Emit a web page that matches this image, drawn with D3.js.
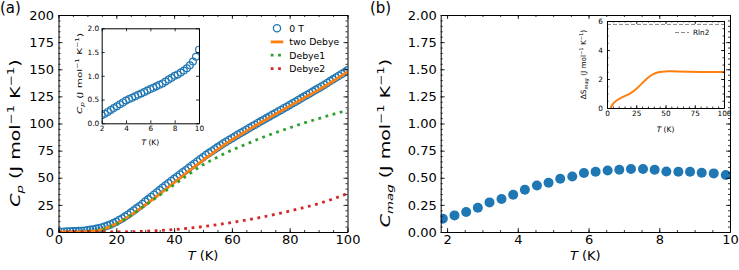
<!DOCTYPE html>
<html><head><meta charset="utf-8">
<script src="https://cdn.jsdelivr.net/npm/d3@7"></script>
<style>body{margin:0;background:#fff}svg{display:block}text{font-family:"DejaVu Sans",sans-serif}</style>
</head><body>
<script>
// ---------- DATA ----------
// Panel (a) main: measured Cp (0 T)
const tA = [1,2,3,4,5,6,7,8,9,10,11,12,13,14,15,16,17,18,19,20,21,22,23,24,25,26,27,28,29,30,31,32,33,34,35,36,37,38,39,40,41,42,43,44,45,46,47,48,49,50,51,52,53,54,55,56,57,58,59,60,61,62,63,64,65,66,67,68,69,70,71,72,73,74,75,76,77,78,79,80,81,82,83,84,85,86,87,88,89,90,91,92,93,94,95,96,97,98,99,100];
const cpA = [0.1,0.2,0.35,0.5,0.6,0.72,0.85,1.0,1.2,1.6,2.0,2.4,2.9,3.5,4.2,5.0,5.9,7.0,8.2,9.5,11.0,12.5,14.2,16.0,17.9,19.8,21.8,23.8,25.9,28.0,30.1,32.2,34.3,36.5,38.6,40.8,42.9,45.0,47.0,49.0,51.0,53.0,55.0,57.0,59.0,61.0,63.0,65.0,67.0,69.0,70.9,72.7,74.5,76.3,78.0,79.8,81.5,83.2,84.9,86.5,88.0,89.6,91.2,92.7,94.3,95.8,97.4,98.9,100.5,102.0,103.5,105.0,106.5,108.0,109.5,111.0,112.5,114.0,115.5,117.0,118.6,120.1,121.7,123.2,124.8,126.3,127.9,129.4,131.0,132.5,134.1,135.8,137.4,139.1,140.7,142.4,144.0,145.7,147.3,149.0];
// Fits
const tFit = [0,5,10,15,20,25,30,35,40,45,50,55,60,65,70,75,80,85,90,95,100];
const twoDebye = [0,0.05,0.4,2.2,7.5,15.5,25,35,45.5,56,66,76,85,93,101,108.5,116,123.5,131,139,147.5];
const debye1 = [0,0.05,0.4,2.2,7.4,15.2,24.5,34,43.5,53,62,69,75.5,81,86.5,91.5,96,100.5,104.5,108.5,112];
const debye2 = [0,0,0,0,0.1,0.3,0.7,1.4,2.3,3.5,5.0,6.8,8.8,11,13.5,16.3,19.3,22.6,26.2,30.5,35.5];
// Panel (a) inset: low-T Cp
const tLow = [2,2.25,2.5,2.75,3,3.25,3.5,3.75,4,4.25,4.5,4.75,5,5.25,5.5,5.75,6,6.25,6.5,6.75,7,7.25,7.5,7.75,8,8.25,8.5,8.75,9,9.25,9.5,9.75,10];
const cpLow = [0.17,0.2,0.24,0.28,0.32,0.36,0.4,0.44,0.48,0.51,0.54,0.57,0.6,0.63,0.66,0.69,0.72,0.75,0.78,0.81,0.84,0.88,0.92,0.96,1.0,1.03,1.07,1.11,1.16,1.22,1.3,1.4,1.55];
// Panel (b) main: Cmag
const tB = [1.88,2.21,2.54,2.87,3.2,3.54,3.87,4.2,4.54,4.87,5.2,5.54,5.87,6.2,6.54,6.87,7.2,7.54,7.87,8.2,8.54,8.87,9.2,9.54,9.88];
const cmag = [0.123,0.153,0.184,0.224,0.273,0.304,0.344,0.39,0.429,0.454,0.491,0.512,0.543,0.555,0.567,0.574,0.58,0.58,0.574,0.558,0.555,0.555,0.546,0.54,0.525];
// Panel (b) inset: entropy
const tS = [3,5,8,12,16,20,25,30,35,40,45,50,55,60,70,80,90,100];
const dS = [0,0.3,0.52,0.7,0.85,1.0,1.3,1.7,2.1,2.38,2.5,2.53,2.53,2.51,2.49,2.48,2.49,2.49];
const Rln2 = 5.763;
// Tick labels
const aXTicks = [0,20,40,60,80,100], aYTicks = [0,25,50,75,100,125,150,175,200];
const aiXTicks = [2,4,6,8,10], aiYTicks = [0,0.5,1.0,1.5,2.0];
const bXTicks = [2,4,6,8,10], bYTicks = [0,0.25,0.5,0.75,1.0,1.25,1.5,1.75,2.0];
const biXTicks = [0,25,50,75,100], biYTicks = [0,2,4,6];
const legendA = ["0 T","two Debye","Debye1","Debye2"];

// ---------- DRAW ----------
const BLUE="#1f77b4", ORANGE="#ff7f0e", GREEN="#2ca02c", RED="#d62728";
const svg = d3.select("body").append("svg").attr("width",739).attr("height",270);

function range(a,b,s){const r=[];for(let v=a;v<=b+1e-9;v+=s)r.push(+v.toFixed(6));return r;}

function axes(g,x,y,o){
  const [x0,x1]=x.range(), [y0,y1]=y.range();
  const st = sel=>{sel.attr("font-family","DejaVu Sans").attr("font-size",o.fs);
    sel.selectAll(".domain").attr("stroke","#000").attr("stroke-width",1);
    sel.selectAll(".tick line").attr("stroke","#000").attr("stroke-width",0.8);};
  const noDom = sel=>sel.select(".domain").remove();
  g.append("g").attr("transform",`translate(0,${y0})`).call(d3.axisBottom(x).tickValues(o.xt).tickSizeInner(-o.maj).tickSizeOuter(0).tickPadding(o.padX).tickFormat(o.fx)).call(st);
  g.append("g").attr("transform",`translate(0,${y1})`).call(d3.axisTop(x).tickValues(o.xt).tickSizeInner(-o.maj).tickSizeOuter(0).tickFormat("")).call(st);
  g.append("g").attr("transform",`translate(${x0},0)`).call(d3.axisLeft(y).tickValues(o.yt).tickSizeInner(-o.maj).tickSizeOuter(0).tickPadding(o.padY).tickFormat(o.fy)).call(st);
  g.append("g").attr("transform",`translate(${x1},0)`).call(d3.axisRight(y).tickValues(o.yt).tickSizeInner(-o.maj).tickSizeOuter(0).tickFormat("")).call(st);
  if(o.xm){
    g.append("g").attr("transform",`translate(0,${y0})`).call(d3.axisBottom(x).tickValues(o.xm).tickSize(-o.min).tickFormat("")).call(st).call(noDom);
    g.append("g").attr("transform",`translate(0,${y1})`).call(d3.axisTop(x).tickValues(o.xm).tickSize(-o.min).tickFormat("")).call(st).call(noDom);
  }
  if(o.ym){
    g.append("g").attr("transform",`translate(${x0},0)`).call(d3.axisLeft(y).tickValues(o.ym).tickSize(-o.min).tickFormat("")).call(st).call(noDom);
    g.append("g").attr("transform",`translate(${x1},0)`).call(d3.axisRight(y).tickValues(o.ym).tickSize(-o.min).tickFormat("")).call(st).call(noDom);
  }
}

function richText(g, parts, fs){
  const t = g.append("text").attr("font-size",fs).attr("text-anchor","middle").attr("fill","#000");
  let shift=0;
  parts.forEach(p=>{
    const s=t.append("tspan").text(p.t);
    let target=0, size=fs;
    if(p.sub){target=fs*0.22;size=fs*0.7;}
    if(p.sup){target=-fs*0.42;size=fs*0.7;}
    s.attr("font-size",size).attr("dy",target-shift);
    shift=target;
    if(p.i) s.attr("font-style","italic");
  });
  return t;
}
const unitParts = [{t:" (J mol"},{t:"−1",sup:1},{t:" K"},{t:"−1",sup:1},{t:")"}];

function clip(id,x,y){
  svg.append("clipPath").attr("id",id).append("rect")
   .attr("x",x.range()[0]).attr("y",y.range()[1])
   .attr("width",x.range()[1]-x.range()[0]).attr("height",y.range()[0]-y.range()[1]);
  return `url(#${id})`;
}

// ===== Panel (a) =====
const xa = d3.scaleLinear().domain([0,100]).range([58.5,347.5]);
const ya = d3.scaleLinear().domain([0,200]).range([232,15]);
const ga = svg.append("g");
const ca = clip("ca",xa,ya);
const dataA = ga.append("g").attr("clip-path",ca);
const line = (x,y)=>d3.line().x(d=>x(d[0])).y(d=>y(d[1])).curve(d3.curveMonotoneX);
dataA.selectAll("circle").data(d3.zip(tA,cpA)).join("circle")
  .attr("cx",d=>xa(d[0])).attr("cy",d=>ya(d[1])).attr("r",3.6)
  .attr("fill","none").attr("stroke",BLUE).attr("stroke-width",1.3);
dataA.append("path").attr("d",line(xa,ya)(d3.zip(tFit,twoDebye))).attr("fill","none").attr("stroke",ORANGE).attr("stroke-width",2.8);
dataA.append("path").attr("d",line(xa,ya)(d3.zip(tFit,debye1))).attr("fill","none").attr("stroke",GREEN).attr("stroke-width",2.8).attr("stroke-dasharray","2.8,4.6");
dataA.append("path").attr("d",line(xa,ya)(d3.zip(tFit,debye2))).attr("fill","none").attr("stroke",RED).attr("stroke-width",2.8).attr("stroke-dasharray","2.8,4.6");
axes(ga,xa,ya,{xt:aXTicks,yt:aYTicks,xm:range(0,100,5),ym:range(0,200,5),maj:4,min:2,fs:13,padX:3,padY:4.5,fx:d3.format("d"),fy:d3.format("d")});
const lg = ga.append("g");
const lx0=270.7, lx1=283.3, ltx=289.3, lb=[31.7,45.3,58.6,72];
lg.append("circle").attr("cx",(lx0+lx1)/2).attr("cy",lb[0]-3.4).attr("r",3.6).attr("fill","none").attr("stroke",BLUE).attr("stroke-width",1.3);
lg.append("line").attr("x1",lx0).attr("x2",lx1).attr("y1",lb[1]-3.4).attr("y2",lb[1]-3.4).attr("stroke",ORANGE).attr("stroke-width",2.8);
lg.append("line").attr("x1",lx0).attr("x2",lx1).attr("y1",lb[2]-3.4).attr("y2",lb[2]-3.4).attr("stroke",GREEN).attr("stroke-width",2.8).attr("stroke-dasharray","2.8,4.6");
lg.append("line").attr("x1",lx0).attr("x2",lx1).attr("y1",lb[3]-3.4).attr("y2",lb[3]-3.4).attr("stroke",RED).attr("stroke-width",2.8).attr("stroke-dasharray","2.8,4.6");
legendA.forEach((s,i)=>lg.append("text").attr("x",ltx).attr("y",lb[i]).attr("font-size",9.3).text(s));
richText(ga.append("g").attr("transform","translate(203,260)"),[{t:"T",i:1},{t:" (K)"}],13);
richText(ga.append("g").attr("transform","translate(19.5,133) scale(0.72,1) rotate(-90)"),[{t:"C",i:1},{t:"p",i:1,sub:1}].concat(unitParts),19);
svg.append("text").attr("x",0).attr("y",13).attr("font-size",15).text("(a)");

// inset (a)
const xai = d3.scaleLinear().domain([2,10]).range([101.7,199]);
const yai = d3.scaleLinear().domain([0,2]).range([123.3,28.3]);
const gai = svg.append("g");
gai.append("rect").attr("x",101.7).attr("y",28.3).attr("width",97.3).attr("height",95).attr("fill","#fff");
const cai = clip("cai",xai,yai);
gai.append("g").attr("clip-path",cai).selectAll("circle").data(d3.zip(tLow,cpLow)).join("circle")
  .attr("cx",d=>xai(d[0])).attr("cy",d=>yai(d[1])).attr("r",3.4)
  .attr("fill","none").attr("stroke",BLUE).attr("stroke-width",1.2);
axes(gai,xai,yai,{xt:aiXTicks,yt:aiYTicks,maj:3,min:1.5,fs:7.3,padX:3,padY:2.5,fx:d3.format("d"),fy:d3.format(".1f")});
richText(gai.append("g").attr("transform","translate(150.3,144.5)"),[{t:"T",i:1},{t:" (K)"}],7.5);
richText(gai.append("g").attr("transform","translate(82,73.5) scale(0.72,1) rotate(-90)"),[{t:"C",i:1},{t:"p",i:1,sub:1}].concat(unitParts),10.5);

// ===== Panel (b) =====
const xb = d3.scaleLinear().domain([1.82,10]).range([440.7,730]);
const yb = d3.scaleLinear().domain([0,2]).range([232,15]);
const gb = svg.append("g");
const cb = clip("cb",xb,yb);
gb.append("g").attr("clip-path",cb).selectAll("circle").data(d3.zip(tB,cmag)).join("circle")
  .attr("cx",d=>xb(d[0])).attr("cy",d=>yb(d[1])).attr("r",5).attr("fill",BLUE);
axes(gb,xb,yb,{xt:bXTicks,yt:bYTicks,xm:range(2,10,0.5),ym:range(0,2,0.05),maj:4,min:2,fs:13,padX:3,padY:4,fx:d3.format("d"),fy:d3.format(".2f")});
richText(gb.append("g").attr("transform","translate(585.3,260)"),[{t:"T",i:1},{t:" (K)"}],13);
richText(gb.append("g").attr("transform","translate(389.5,143) scale(0.72,1) rotate(-90)"),[{t:"C",i:1},{t:"mag",i:1,sub:1}].concat(unitParts),19);
svg.append("text").attr("x",370).attr("y",13).attr("font-size",15).text("(b)");

// inset (b)
const xbi = d3.scaleLinear().domain([0,100]).range([607,724]);
const ybi = d3.scaleLinear().domain([0,6]).range([108,21]);
const gbi = svg.append("g");
gbi.append("rect").attr("x",607).attr("y",21).attr("width",117).attr("height",87).attr("fill","#fff");
const cbi = clip("cbi",xbi,ybi);
const gbid = gbi.append("g").attr("clip-path",cbi);
gbid.append("line").attr("x1",xbi(0)).attr("x2",xbi(100)).attr("y1",ybi(Rln2)).attr("y2",ybi(Rln2))
  .attr("stroke","#888").attr("stroke-width",1).attr("stroke-dasharray","4,2");
gbid.append("path").attr("d",d3.line().x(d=>xbi(d[0])).y(d=>ybi(d[1])).curve(d3.curveBasis)(d3.zip(tS,dS)))
  .attr("fill","none").attr("stroke",ORANGE).attr("stroke-width",2);
axes(gbi,xbi,ybi,{xt:biXTicks,yt:biYTicks,xm:range(0,100,5),ym:range(0,6,0.5),maj:3,min:1.5,fs:7.3,padX:3,padY:4,fx:d3.format("d"),fy:d3.format("d")});
gbi.append("line").attr("x1",675).attr("x2",689).attr("y1",32.5).attr("y2",32.5).attr("stroke","#888").attr("stroke-width",1).attr("stroke-dasharray","4,2");
gbi.append("text").attr("x",693).attr("y",35).attr("font-size",7.3).text("Rln2");
richText(gbi.append("g").attr("transform","translate(665.5,132)"),[{t:"T",i:1},{t:" (K)"}],7.5);
richText(gbi.append("g").attr("transform","translate(586,64.5) rotate(-90)"),[{t:"ΔS"},{t:"mag",i:1,sub:1}].concat(unitParts),7.3);
</script>
</body></html>
